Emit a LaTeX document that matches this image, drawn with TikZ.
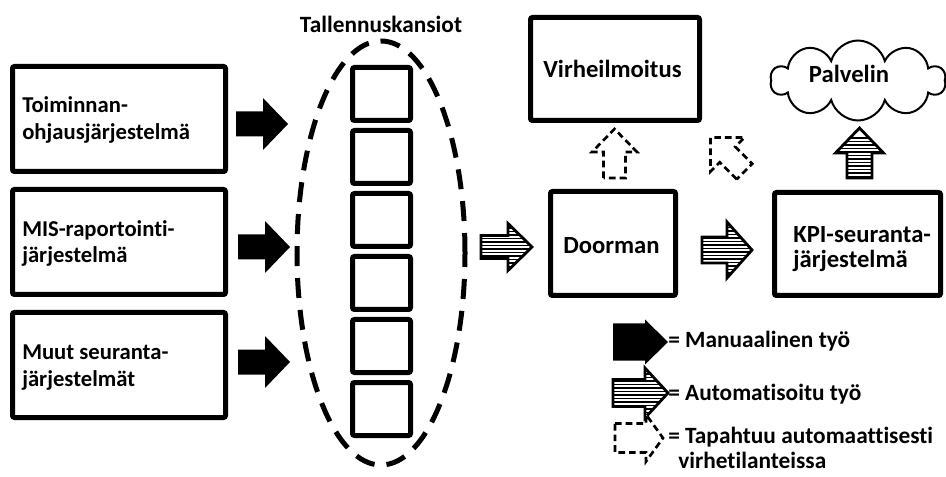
\documentclass[tikz,border=0pt]{standalone}
\usepackage{fontspec}
\setmainfont{Carlito}[Ligatures=NoCommon]
\usetikzlibrary{shapes.geometric,shapes.symbols}
\newcommand\ArrPoly[4]{(0,-#4)--(#2,-#4)--(#2,-#3)--(#1,0)--(#2,#3)--(#2,#4)--(0,#4)--cycle}
% #1 position, #2 rotation, #3 length, #4 head base, #5 head half width, #6 shaft half width
\newcommand\SolidArrow[6]{\fill[shift={#1},rotate=#2] \ArrPoly{#3}{#4}{#5}{#6};}
\newcommand\StripedArrow[6]{%
  \begin{scope}[shift={#1}]
    \begin{scope}
      \clip[rotate=#2] \ArrPoly{#3}{#4}{#5}{#6};
      \foreach \k in {-40,-36.5,...,60} \draw[line width=1.1pt] (-70,\k)--(70,\k);
    \end{scope}
    \draw[arrowline,rotate=#2] \ArrPoly{#3}{#4}{#5}{#6};
  \end{scope}}
\newcommand\DashedArrow[6]{\draw[dasharrow,shift={#1},rotate=#2] \ArrPoly{#3}{#4}{#5}{#6};}
\begin{document}
\begin{tikzpicture}[x=0.75pt,y=-0.75pt,
  box/.style={draw,line width=3.75pt,rounded corners=1.5pt,inner sep=0pt},
  boxtext/.style={inner sep=0pt,align=left,anchor=base west,font=\fontsize{17}{20.25}\selectfont\bfseries},
  bigtext/.style={inner sep=0pt,font=\fontsize{18.5}{18.75}\selectfont\bfseries},
  folder/.style={draw,line width=3.75pt,rounded corners=1.5pt,minimum width=43.5pt,minimum height=39.75pt,inner sep=0pt},
  arrowline/.style={line width=2.1pt,line join=miter},
  dasharrow/.style={line width=2pt,dash pattern=on 5pt off 3pt,fill=white},
  legend/.style={anchor=base west,inner sep=0pt,font=\fontsize{17.5}{21}\selectfont\bfseries}]
\useasboundingbox (0,0) rectangle (946,477);

% left source boxes
\node[box,minimum width=159.75pt,minimum height=78.75pt] (toim) at (119,119) {};
\node[box,minimum width=159.75pt,minimum height=78.75pt] (mis) at (119,242) {};
\node[box,minimum width=159.75pt,minimum height=78.75pt] (muut) at (119,365) {};
\node[boxtext] (toimtext) at (22,140) {Toiminnan-\\ohjausjärjestelmä};
\node[boxtext] (mistext) at (22,263) {MIS-raportointi-\\järjestelmä};
\node[boxtext] (muuttext) at (22,386.5) {Muut seuranta-\\järjestelmät};

% manual arrows
\SolidArrow{(236,124)}{0}{52}{27}{26}{12.5}
\SolidArrow{(238,247)}{0}{52}{27}{26}{12.5}
\SolidArrow{(238,362)}{0}{52}{27}{26}{12.5}

% folders
\node[draw,ellipse,line width=3.75pt,dash pattern=on 15pt off 9pt,minimum width=126pt,minimum height=318pt,inner sep=0pt] (kansiot) at (381,253) {};
\node[anchor=base,inner sep=0pt,font=\fontsize{17.5}{21}\selectfont\bfseries] (kansiotlabel) at (381,33) {Tallennuskansiot};
\foreach \i in {0,...,5} \node[folder] (f\i) at (381.5,94+63*\i) {};

% automated arrow to Doorman
\StripedArrow{(481,247)}{0}{51}{27}{23.5}{11.5}

% Doorman
\node[box,minimum width=93.75pt,minimum height=78pt] (door) at (613,243.5) {};
\node[bigtext,anchor=base] (doortext) at (611.5,254) {Doorman};
\StripedArrow{(702,250)}{0}{50}{25}{28}{13}
% KPI
\node[box,minimum width=124.5pt,minimum height=77.25pt] (kpi) at (857.5,244) {};
\node[bigtext,align=left,anchor=base west] (kpitext) at (793,268) {KPI-seuranta-\\järjestelmä};
% Virheilmoitus
\node[box,minimum width=126.75pt,minimum height=77.25pt] (virhe) at (615,69) {};
\node[bigtext,anchor=base] (virhetext) at (612.5,78) {Virheilmoitus};
% cloud
\node[draw,cloud,cloud puffs=10,aspect=2.27,line width=1.5pt,minimum width=131pt,minimum height=60pt,inner sep=0pt] (palvelin) at (858,80.5) {};
\node[bigtext,anchor=base] (palvelintext) at (849,83) {Palvelin};

% arrows upward
\DashedArrow{(614.5,178)}{90}{49}{26}{22.5}{11}
\DashedArrow{(744.5,171.5)}{135}{48}{24}{24}{11}
\StripedArrow{(859.5,178)}{90}{50}{25}{24}{12.5}

% legend
\SolidArrow{(613,342)}{0}{55}{32}{22.5}{18.5}
\node[legend] (l1) at (668,348) {= Manuaalinen työ};
\StripedArrow{(613,393)}{0}{55}{32}{25}{13.5}
\node[legend] (l2) at (668,400) {= Automatisoitu työ};
\DashedArrow{(615,438)}{0}{48}{31}{23.5}{14.5}
\node[legend] (l3) at (668,443) {= Tapahtuu automaattisesti};
\node[legend] (l4) at (678,468) {virhetilanteissa};
\end{tikzpicture}
\end{document}
